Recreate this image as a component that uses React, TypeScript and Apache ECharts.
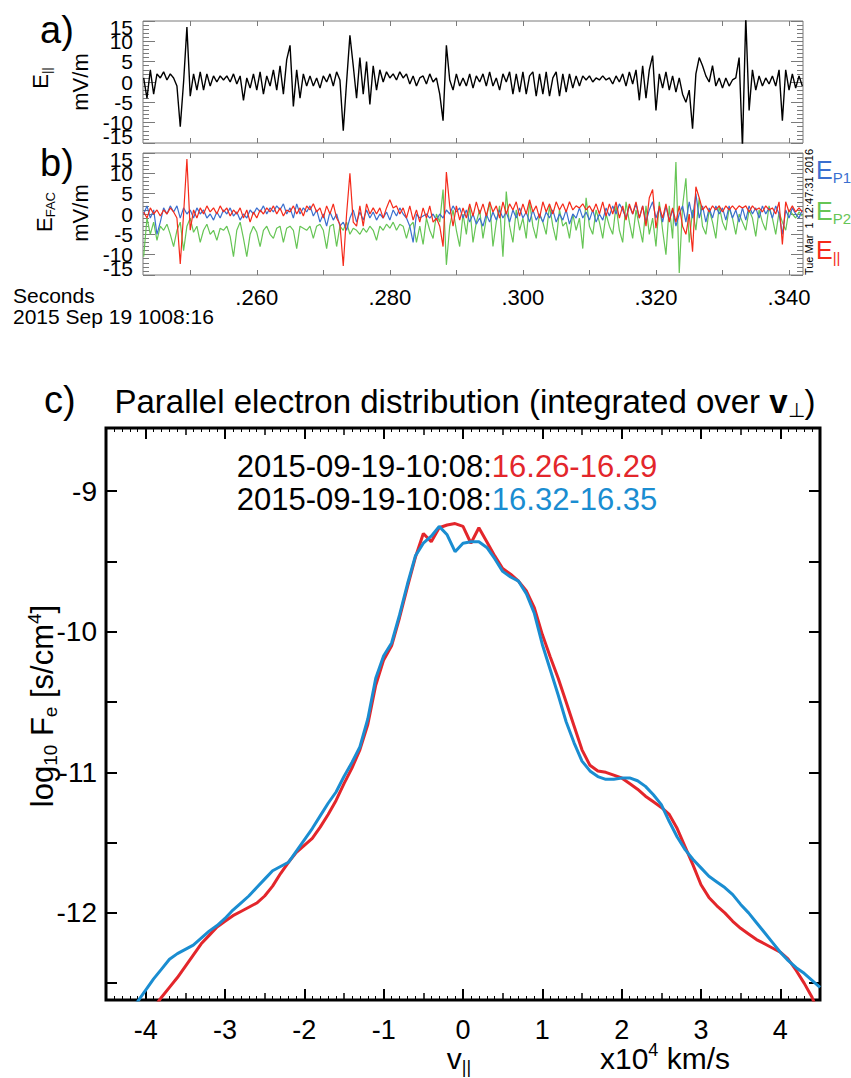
import React, { useEffect, useRef } from 'react';
import * as echarts from 'echarts';

// ---------------- DATA ----------------
// Panels a/b: sampled every 0.5 ms starting at .243 s (2015 Sep 19 10:08:16)
const T_START = 0.243;
const T_STEP = 0.0005;
const T_MIN = 0.2429;
const T_MAX = 0.3421;
const TIME_TICKS = [0.25, 0.26, 0.27, 0.28, 0.29, 0.3, 0.31, 0.32, 0.33, 0.34];
const TIME_LABELS = [0.26, 0.28, 0.3, 0.32, 0.34];
// y tick labels of panels a/b, split in groups so that none of them is auto-hidden
const FIELD_LABELS_EVEN = [-10, 0, 10];
const FIELD_LABELS_ODD = [-5, 5];
const FIELD_LABELS_ENDS = [-15, 15];

// a) E parallel (mV/m)
const E_PAR_A = [
  1, -4, 3, -3, 2, 1, 2.5, 0.5, 2, 1,
  -1, -11, 0, 13.5, -3.5, 2, -2, 2.5, -2, 2,
  -1, 1.5, 0, 1.5, 0.5, 1.5, 0, 2, -0.5, 1.5,
  -4.5, 1, -1.5, 2, -2, 2.5, -3, 1.5, -1, 3,
  -2, 4, -3, 5.5, 9, -6, 3, -4, 2, -1,
  1.5, -1, 1, -1.5, 1.5, 0, 2, -1, 2.5, 0.5,
  -12, 0, 11.5, 4, -4, 6, -3, 5, -5.5, 4,
  -2, 3, 0, 2.5, 1, 2, 0.5, 2.5, 1, 2,
  -0.5, 1.5, -1, 1, 1.5, -0.5, 2, 0, 1, -3,
  -9.5, 9, 0.5, -2, 2, -1, 1, -1, 2, -1.5,
  1.5, 0, 2, -1, 2.5, -1, 1, -2, 2, 0,
  2.5, -3, 2, -2.5, 2.5, -3, 1.5, 2.5, -3.5, 2,
  -3, 2.5, -3.5, 1, 2.5, -3.5, 2, -2.5, 2, -1.5,
  1.5, -1, 1.5, 0.5, 1.5, 0, 1, 0.5, 1.5, 0.5,
  1, -0.5, 1.5, 0, 2, -1, 2.5, -0.5, 3, -4.5,
  4, -4, 3, 6.5, -7, 2, -1.5, 2.5, -2, 1.5,
  -2.5, 1, -3, -5, -2, -11.5, 2, 6, 4, 1.5,
  0, 4, -1, 1, -1.5, 1, -1, 0.5, 1, 6,
  -16, 16, -7, 3, -2, 1.5, -1, 1, -0.5, 1.5,
  -1, 3, -9.5, 3, -2, 2, -1.5, 1.5, -1,
];

// b) field-aligned components (mV/m)
const E_PAR_B = [
  0.5, -1, 1.5, 0, 1, -0.5, 1, 0, 1.5, 0.5,
  -1, -12.3, 0, 13.5, -4, 1, -1, 1.5, 0, 2,
  0.5, 1.5, 0, 2, 0.5, 1.5, -0.5, 1, 0, 1.5,
  -1, 1, -2, 0.5, -1, 1, 0, 1.5, 0.5, 2,
  0, 1.5, -0.5, 1, 0.5, 2, 0, 1.5, -0.5, 2,
  1, 2.5, 0.5, 1.5, -1, 2, 0, 2.5, -1, -2.5,
  -12.8, 0, 10, -2, -3, 2, -3, 2.5, 0, 1.5,
  0, 1.5, -1, 1.5, 3.5, 1.5, 2, 0, 1.5, -1,
  2, -1.5, 1, -2, 1.5, -1, 2, -2, -1, -3,
  -8, 10.3, 2, -3, 2, -1.5, 1.5, -1, 2.5, -0.5,
  3, 0, 2.5, -0.5, 3, 0.5, 2, -1, 3, 0,
  2.5, 1, 3, -0.5, 2.5, 0, 3.5, 0.5, 2, -1,
  3, 0.5, 2.5, 0, 3, 1, 2.5, 0.5, 3, 1,
  2, 1.5, 2.5, 1, 2, 0.5, 2.5, 0, 3, -0.5,
  2.5, 0, 3, -1, 2, -1.5, 2.5, 0, 3, -1,
  2, -3, 4, 6, -3.5, 2, -1, 2.5, -2, 1.5,
  -2, 2, -3, -5, 0, -9.3, 6.7, 4, 1, 2,
  0.5, 2, 1, 2, 0.5, 2, 1, 2, 1, 2,
  1.5, 2, 0.5, 2, 1, 1.5, 0.5, 2, 1, 1.5,
  0, 3, -7.5, 3, 0.5, 2, 0.5, 1.5, 0.5,
];

const E_P1 = [
  0, 2, -1, 1, -5, -2, 1.5, 0, 2, 0.5,
  2, -1, 1.5, 0, 1, -1, 1.5, 0, 1, -1,
  0, -1.5, 0.5, -1, 1, 0, 1.5, -0.5, 0.5, -1.5,
  0, -1, 1, 0, 1.5, 0.5, 2, 0, 1.5, 0.5,
  2, 1, 2.5, 0, 1.5, -1, 2.5, 0, 1.5, 0.5,
  2, -0.5, 1, -2, 0, -3, 0.5, -1.5, 0, -3,
  -2, -4, -1, 1, -2, 0.5, -1.5, 1, -1, 0.5,
  -1.5, 0, -1, 0.5, -1.5, 1, -0.5, 1.5, 0, -1,
  -3, -7, 0, -1, -0.5, 0, -1, 0, -1.5, 0,
  -1, 1, 0, 2, 0.5, 1.5, -1, 1, -2, 0,
  -2.5, -1, -3, 0, -2, 0.5, -1.5, 1, -1, 0.5,
  -2, 1, -1, 1.5, -1, 0.5, -2, 1, -1.5, 0,
  -2, 0.5, -1, 1, -2, 0, -1.5, 1, -2.5, 0,
  -1, 1.5, -1, 0.5, -1.5, 1, -2, 0, -1.5, 1.5,
  -0.5, 2, 0, 2.5, 1, -1, 2, 0, 2.5, -1,
  2, -2, 1, 3, -1, 1.5, -2, 2, -1.5, 1,
  -3, 0, 2, -2, 3, -1, 5, -1, 2, -2,
  1.5, -1, 2, 0, 1.5, -1.5, 2, -1, 1, -2,
  1.5, -1.5, 2, 0, 1.5, -1, 2, 0, 1.5, -1,
  2, 0, -5, 1, -1, 1.5, 0, -1, 1,
];

const E_P2 = [
  -10.5, -1, -5, -2, -6.5, -3, -4, -2.5, -5, -8,
  -4, -2, -9, -3, -1, -4.5, -3, -7, -4, -2.5,
  -5, -4, -6.5, -3.5, -4, -3, -5.5, -10.5, -4, -2,
  -6, -10.5, -5, -3, -4.5, -8, -4, -3, -5, -6,
  -3.5, -3, -7, -3.5, -3, -4, -8.5, -3, -3.5, -4,
  -3, -6, -3, -2.5, -4, -8.5, -3, -2.5, -8, -3,
  -4, -2, -5, -3.5, -4, -5, -3.5, -4.5, -3, -4,
  -6.5, -3, -4, -2.5, -3.5, -2, -4, -2.5, -3, -6,
  -3, -2, -7, -3, -7.5, -1, -4, -6, 0, -2,
  6, -12.5, -3, 1, -4, -8, 0, -5, 2, -7,
  -2, 1, -6, -1, 3, -8, -2, 2, -10.5, 5.5,
  -3, -7, 1, -4, -1, -6, 3, -3, -6, 0,
  -2, -5, 2, -3, -6.5, 1, -3, -2, -6, 0,
  -4, -1, -8.5, 4, -3, -5, 1, -2, -6, 0,
  -3, -5, 2, -4, -7, 3, -2, -6, 1, -3,
  -7, 2, -5, -1, -8, 3, -4, -10, 2, -6,
  12.8, -14.5, 2, 8.8, -7, 1, -4, 4, -3, -5,
  1, -2, -6, 2, -2, -4, 1.5, -1, -5, 0,
  -2, -4, 1, -1, -5.5, 1, -2, -4, 2, -1,
  -5, 0.5, -2, -4, 1, 0, -1, 0.5, -0.5,
];

// c) parallel distribution, v_par grid -4.5..4.5 (x1e4 km/s) step 0.1
const V_FIRST = -4.5;
const V_STEP = 0.1;
const F_RED = [
  -13.4, -13.3, -13.15, -13.0, -12.88, -12.78,
  -12.68, -12.6, -12.53, -12.46, -12.38, -12.3, -12.22, -12.16, -12.1, -12.06,
  -12.02, -11.99, -11.96, -11.93, -11.88, -11.81, -11.72, -11.64, -11.57, -11.52,
  -11.47, -11.39, -11.3, -11.2, -11.08, -10.97, -10.84, -10.66, -10.38, -10.2,
  -10.1, -9.9, -9.68, -9.47, -9.3, -9.36, -9.26, -9.24, -9.23, -9.25,
  -9.37, -9.26, -9.36, -9.46, -9.55, -9.59, -9.64, -9.71, -9.83, -10.02,
  -10.18, -10.33, -10.5, -10.67, -10.84, -10.95, -10.99, -11.0, -11.02, -11.04,
  -11.08, -11.12, -11.17, -11.21, -11.25, -11.3, -11.4, -11.53, -11.66, -11.8,
  -11.89, -11.95, -12.0, -12.06, -12.11, -12.15, -12.19, -12.22, -12.25, -12.28,
  -12.33, -12.41, -12.5, -12.6, -12.75,
];
const F_BLUE = [
  -12.9, -12.85, -12.78, -12.7, -12.63, -12.55,
  -12.47, -12.4, -12.33, -12.29, -12.26, -12.23, -12.18, -12.13, -12.09, -12.04,
  -11.98, -11.93, -11.88, -11.82, -11.76, -11.7, -11.67, -11.64, -11.56, -11.48,
  -11.4, -11.31, -11.22, -11.14, -11.03, -10.93, -10.82, -10.62, -10.33, -10.17,
  -10.08, -9.88, -9.66, -9.46, -9.37, -9.32, -9.25, -9.31, -9.43, -9.37,
  -9.36, -9.36, -9.4, -9.48, -9.57, -9.61, -9.64, -9.73, -9.87, -10.09,
  -10.27, -10.45, -10.64, -10.79, -10.92, -10.99, -11.03, -11.05, -11.05, -11.04,
  -11.04, -11.06, -11.1, -11.16, -11.23, -11.35, -11.46, -11.55, -11.62, -11.68,
  -11.74, -11.78, -11.82, -11.87, -11.94, -12.0, -12.07, -12.14, -12.21, -12.28,
  -12.34, -12.39, -12.43, -12.48, -12.53,
];
const V_TICKS_INT = [-4, -3, -2, -1, 0, 1, 2, 3, 4];
const F_TICKS = [-12.5, -12, -11.5, -11, -10.5, -10, -9.5, -9];
const F_LABELS = [-12, -11, -10, -9];
const F_MIN = -12.62;
const F_MAX = -8.55;

// ---------------- STYLE ----------------
const FONT = "'Liberation Sans', Arial, Helvetica, sans-serif";
const GRAY = '#7a7a7a';
const C_P1 = '#3a6fcf';
const C_P2 = '#66c555';
const C_PAR = '#f52a1a';
const C_RED = '#e3262b';
const C_BLUE = '#1a8dd1';

const timePairs = (vals: number[]) => vals.map((v, i) => [T_START + i * T_STEP, v]);
const velPairs = (vals: number[]) => vals.map((v, i) => [Math.round((V_FIRST + i * V_STEP) * 10) / 10, v]);

const NO_LINE = { show: false, onZero: false };

function timeX(grid: number, pos: string, labels: boolean) {
  return {
    type: 'value', gridIndex: grid, position: pos, min: T_MIN, max: T_MAX,
    axisLine: NO_LINE, splitLine: { show: false },
    axisTick: { show: true, inside: true, length: 5, customValues: TIME_TICKS, lineStyle: { color: GRAY, width: 1 } },
    axisLabel: labels
      ? { show: true, customValues: TIME_LABELS, formatter: (v: number) => v.toFixed(3).replace(/^0/, ''), fontSize: 22, margin: 11, color: '#000', fontFamily: FONT }
      : { show: false },
  };
}

function fieldY(grid: number, pos: string, labels: boolean) {
  return {
    type: 'value', gridIndex: grid, position: pos, min: -15, max: 15, interval: 5,
    axisLine: NO_LINE, splitLine: { show: false },
    axisTick: { show: true, inside: true, length: 12, lineStyle: { color: GRAY, width: 1 } },
    minorTick: { show: true, splitNumber: 5, length: 6, lineStyle: { color: GRAY, width: 1 } },
    axisLabel: labels
      ? { show: true, customValues: FIELD_LABELS_EVEN, fontSize: 21, margin: 10, color: '#000', fontFamily: FONT }
      : { show: false },
  };
}

// label-only axes on the same grid (other label groups)
function fieldYLabels(grid: number, values: number[], nudge: boolean) {
  return {
    type: 'value', gridIndex: grid, position: 'left', min: -15, max: 15,
    axisLine: NO_LINE, splitLine: { show: false }, axisTick: { show: false },
    axisLabel: {
      show: true, showMinLabel: true, showMaxLabel: true, customValues: values,
      fontSize: 21, margin: 10, color: '#000', fontFamily: FONT,
      formatter: nudge ? (v: number) => (v > 0 ? '{t|' + v + '}' : '{b|' + v + '}') : undefined,
      rich: nudge
        ? {
            t: { fontSize: 21, fontFamily: FONT, color: '#000', padding: [12, 0, 0, 0] },
            b: { fontSize: 21, fontFamily: FONT, color: '#000', padding: [0, 0, 14, 0] },
          }
        : undefined,
    },
  };
}

function velX(pos: string, labels: boolean) {
  return {
    type: 'value', gridIndex: 2, position: pos, min: -4.5, max: 4.5, interval: 0.5,
    axisLine: NO_LINE, splitLine: { show: false },
    axisTick: { show: true, inside: true, length: 7, lineStyle: { color: '#000', width: 1.5 } },
    minorTick: { show: true, splitNumber: 5, length: 4, lineStyle: { color: '#000', width: 1 } },
    axisLabel: labels
      ? { show: true, customValues: V_TICKS_INT, fontSize: 27, margin: 16, color: '#000', fontFamily: FONT }
      : { show: false },
  };
}

function velXInt(pos: string) {
  return {
    type: 'value', gridIndex: 2, position: pos, min: -4.5, max: 4.5,
    axisLine: NO_LINE, splitLine: { show: false },
    axisTick: { show: true, inside: true, length: 11, customValues: V_TICKS_INT, lineStyle: { color: '#000', width: 2 } },
    axisLabel: { show: false },
  };
}

function fY(pos: string, labels: boolean) {
  return {
    type: 'value', gridIndex: 2, position: pos, min: F_MIN, max: F_MAX,
    axisLine: NO_LINE, splitLine: { show: false },
    axisTick: { show: true, inside: true, length: 11, customValues: F_TICKS, lineStyle: { color: '#000', width: 2 } },
    axisLabel: labels
      ? { show: true, customValues: F_LABELS, fontSize: 28, margin: 9, color: '#000', fontFamily: FONT }
      : { show: false },
  };
}

function txt(text: string, x: number, y: number, size: number, o: any = {}) {
  return {
    type: 'text', x, y, rotation: o.rotation || 0, silent: true, z: 10,
    style: {
      text, x: 0, y: 0, fontSize: size, fontFamily: FONT, fontWeight: o.weight || 'normal',
      fill: o.color || '#000', align: o.align || 'left', verticalAlign: 'middle', rich: o.rich,
    },
  };
}
const tok = (size: number, color = '#000', extra: any = {}) => ({ fontSize: size, fontFamily: FONT, fill: color, color, ...extra });
const R90 = Math.PI / 2;

export default function App() {
  const ref = useRef<HTMLDivElement>(null);
  useEffect(() => {
    const chart = echarts.init(ref.current!, null, { renderer: 'svg' });
    const option: any = {
      animation: false,
      backgroundColor: '#fff',
      textStyle: { fontFamily: FONT },
      grid: [
        { left: 143, top: 21, width: 660, height: 122, show: true, borderColor: GRAY, borderWidth: 1, backgroundColor: 'transparent' },
        { left: 143, top: 153, width: 660, height: 122, show: true, borderColor: GRAY, borderWidth: 1, backgroundColor: 'transparent' },
        { left: 106, top: 428, width: 714, height: 572, show: true, borderColor: '#000', borderWidth: 3, backgroundColor: 'transparent' },
      ],
      xAxis: [
        timeX(0, 'bottom', false), timeX(0, 'top', false),
        timeX(1, 'bottom', true), timeX(1, 'top', false),
        velX('bottom', true), velXInt('bottom'), velX('top', false), velXInt('top'),
      ],
      yAxis: [
        fieldY(0, 'left', true), fieldY(0, 'right', false),
        fieldY(1, 'left', true), fieldY(1, 'right', false),
        fY('left', true), fY('right', false),
        fieldYLabels(0, FIELD_LABELS_ODD, false), fieldYLabels(0, FIELD_LABELS_ENDS, true),
        fieldYLabels(1, FIELD_LABELS_ODD, false), fieldYLabels(1, FIELD_LABELS_ENDS, true),
      ],
      series: [
        { type: 'line', xAxisIndex: 0, yAxisIndex: 0, data: timePairs(E_PAR_A), symbol: 'none', lineStyle: { color: '#000', width: 1.4 }, z: 3 },
        { type: 'line', xAxisIndex: 2, yAxisIndex: 2, data: timePairs(E_P2), symbol: 'none', lineStyle: { color: C_P2, width: 1.2 }, z: 3 },
        { type: 'line', xAxisIndex: 2, yAxisIndex: 2, data: timePairs(E_P1), symbol: 'none', lineStyle: { color: C_P1, width: 1.2 }, z: 4 },
        { type: 'line', xAxisIndex: 2, yAxisIndex: 2, data: timePairs(E_PAR_B), symbol: 'none', lineStyle: { color: C_PAR, width: 1.2 }, z: 5 },
        { type: 'line', xAxisIndex: 4, yAxisIndex: 4, data: velPairs(F_RED), symbol: 'none', lineStyle: { color: C_RED, width: 3 }, z: 3 },
        { type: 'line', xAxisIndex: 4, yAxisIndex: 4, data: velPairs(F_BLUE), symbol: 'none', lineStyle: { color: C_BLUE, width: 3 }, z: 4 },
      ],
      graphic: [
        txt('a)', 40, 30, 38),
        txt('b)', 40, 163, 38),
        txt('c)', 44, 400, 38),
        txt('{n|E}{s|||}', 40, 78, 22, { rotation: R90, align: 'center', rich: { n: tok(22), s: tok(13, '#000', { padding: [12, 0, 0, 0] }) } }),
        txt('mV/m', 80, 82, 22, { rotation: R90, align: 'center' }),
        txt('{n|E}{s|FAC}', 44, 212, 22, { rotation: R90, align: 'center', rich: { n: tok(22), s: tok(13, '#000', { padding: [12, 0, 0, 0] }) } }),
        txt('mV/m', 80, 213, 22, { rotation: R90, align: 'center' }),
        txt('Seconds', 13, 295, 21),
        txt('2015 Sep 19 1008:16', 13, 316, 21),
        txt('Tue Mar  1 12:47:31 2016', 809, 212, 11, { rotation: R90, align: 'center' }),
        txt('{n|E}{s|P1}', 816, 170, 25, { color: C_P1, rich: { n: tok(25, C_P1), s: tok(15, C_P1, { padding: [14, 0, 0, 0] }) } }),
        txt('{n|E}{s|P2}', 816, 211, 25, { color: C_P2, rich: { n: tok(25, C_P2), s: tok(15, C_P2, { padding: [14, 0, 0, 0] }) } }),
        txt('{n|E}{s|||}', 816, 250, 25, { color: C_PAR, rich: { n: tok(25, C_PAR), s: tok(15, C_PAR, { padding: [14, 0, 0, 0] }) } }),
        txt('{n|Parallel electron distribution (integrated over }{b|v}{s|⊥}{n|)}', 465, 401, 33, {
          align: 'center',
          rich: { n: tok(33), b: tok(33, '#000', { fontWeight: 'bold' }), s: tok(20, '#000', { padding: [18, 0, 0, 0] }) },
        }),
        txt('{k|2015-09-19-10:08:}{r|16.26-16.29}', 447, 466, 31, { align: 'center', rich: { k: tok(31), r: tok(31, C_RED) } }),
        txt('{k|2015-09-19-10:08:}{r|16.32-16.35}', 447, 499, 31, { align: 'center', rich: { k: tok(31), r: tok(31, C_BLUE) } }),
        txt('{n|log}{s|10}{n| F}{s|e}{n| [s/cm}{p|4}{n|]}', 42, 706, 31, {
          rotation: R90, align: 'center',
          rich: { n: tok(31), s: tok(19, '#000', { padding: [16, 0, 0, 0] }), p: tok(19, '#000', { padding: [0, 0, 16, 0] }) },
        }),
        txt('{n|v}{s|||}', 459, 1058, 30, { align: 'center', rich: { n: tok(30), s: tok(18, '#000', { padding: [18, 0, 0, 0] }) } }),
        txt('{n|x10}{p|4}{n| km/s}', 665, 1058, 30, { align: 'center', rich: { n: tok(30), p: tok(18, '#000', { padding: [0, 0, 16, 0] }) } }),
      ],
    };
    chart.setOption(option);
    return () => chart.dispose();
  }, []);
  return <div ref={ref} style={{ position: 'absolute', left: 0, top: 0, width: 851, height: 1078, background: '#fff' }} />;
}
